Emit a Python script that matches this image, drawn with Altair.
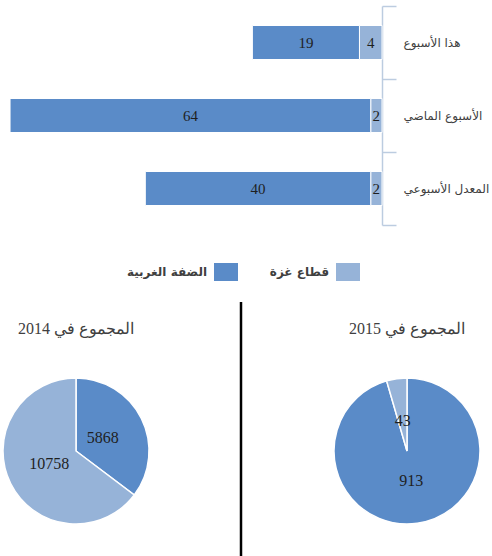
import altair as alt
import pandas as pd

# ---- data ----
categories = ["هذا الأسبوع", "الأسبوع الماضي", "المعدل الأسبوعي"]
series = ["الضفة الغربية", "قطاع غزة"]
west_bank = [19, 64, 40]
gaza = [4, 2, 2]

pie_titles = ["المجموع في 2014", "المجموع في 2015"]
pie_west_bank = [5868, 913]
pie_gaza = [10758, 43]

DARK = "#5A8BC8"
LIGHT = "#96B3D8"
TEXT = "#404040"

color_scale = alt.Scale(domain=series, range=[DARK, LIGHT])

# ---- bar chart ----
rows = []
for c, w, g in zip(categories, west_bank, gaza):
    rows.append({"cat": c, "series": series[1], "value": g, "ord": 0})
    rows.append({"cat": c, "series": series[0], "value": w, "ord": 1})
bar_df = pd.DataFrame(rows)

bar_base = alt.Chart(bar_df).transform_stack(
    stack="value", groupby=["cat"], as_=["v0", "v1"], sort=[alt.SortField("ord")]
).transform_calculate(mid="(datum.v0 + datum.v1) / 2")

y_enc = alt.Y(
    "cat:N",
    sort=categories,
    scale=alt.Scale(paddingInner=0, paddingOuter=0),
    axis=alt.Axis(
        orient="right", title=None, tickBand="extent", tickSize=14,
        domainColor="#BCCCE0", tickColor="#BCCCE0", domainWidth=1.5, tickWidth=1.5,
        labelPadding=7, labelFont="DejaVu Sans", labelFontSize=12,
        labelColor=TEXT, labelAlign="left", labelLimit=0,
    ),
)
x_scale = alt.Scale(domain=[0, 67.25], reverse=True, nice=False, zero=True)

bars = bar_base.mark_bar(size=34, stroke="white", strokeWidth=1).encode(
    x=alt.X("v0:Q", scale=x_scale, axis=None),
    x2="v1:Q",
    y=y_enc,
    color=alt.Color("series:N", scale=color_scale, legend=None),
)
bar_labels = bar_base.mark_text(font="Liberation Serif", fontSize=15, color="#1F1F1F").encode(
    x=alt.X("mid:Q", scale=x_scale, axis=None),
    y=y_enc,
    text=alt.Text("value:Q", format="d"),
)
bar_chart = alt.layer(bars, bar_labels).properties(width=379, height=219)

# ---- legend ----
leg_df = pd.DataFrame({"series": series})
leg_x = alt.X("series:N", scale=alt.Scale(type="point", domain=series, range=[223, 345], padding=0),
              axis=None)
leg_sq = alt.Chart(leg_df).mark_point(
    shape="M-1,-0.75L1,-0.75L1,0.75L-1,0.75Z", size=576, filled=True, opacity=1, strokeWidth=0
).encode(x=leg_x, color=alt.Color("series:N", scale=color_scale, legend=None))
leg_txt = alt.Chart(leg_df).mark_text(
    align="right", dx=-19, font="DejaVu Sans", fontWeight="bold", fontSize=12, color=TEXT
).encode(x=leg_x, text="series:N")
legend_chart = alt.layer(leg_sq, leg_txt).properties(width=480, height=20)


# ---- pies ----
def make_pie(title, wb, gz):
    d = pd.DataFrame({"series": series, "value": [wb, gz], "ord": [0, 1]})
    base = alt.Chart(d).encode(
        theta=alt.Theta("value:Q", stack=True),
        order=alt.Order("ord:Q"),
    )
    arc = base.mark_arc(outerRadius=73, stroke="white", strokeWidth=1.5).encode(
        color=alt.Color("series:N", scale=color_scale, legend=None)
    )
    txt = base.mark_text(radius=30, font="Liberation Serif", fontSize=16, color="#1F1F1F").encode(
        text=alt.Text("value:Q", format="d")
    )
    return alt.layer(arc, txt).properties(
        width=146, height=146,
        title=alt.TitleParams(
            text=title, font="Liberation Serif", fontSize=16, fontWeight="normal",
            color=TEXT, anchor="middle", offset=38,
        ),
    )


pie14 = make_pie(pie_titles[0], pie_west_bank[0], pie_gaza[0])
pie15 = make_pie(pie_titles[1], pie_west_bank[1], pie_gaza[1])

divider = alt.Chart(pd.DataFrame({"a": [0]})).mark_rule(color="black", strokeWidth=2.5).encode(
    x=alt.value(89), y=alt.value(-76), y2=alt.value(178)
).properties(width=179, height=146)

pie_row = alt.hconcat(pie14, divider, pie15, spacing=0)

chart = alt.vconcat(
    alt.vconcat(bar_chart, legend_chart, spacing=36),
    pie_row,
    spacing=18,
).properties(
    padding={"left": 0, "top": 0, "right": 0, "bottom": 0},
    background="white",
).configure_view(strokeWidth=0).configure_concat(spacing=0)

chart.save("out.html", embed_options={"renderer": "svg", "actions": False})
